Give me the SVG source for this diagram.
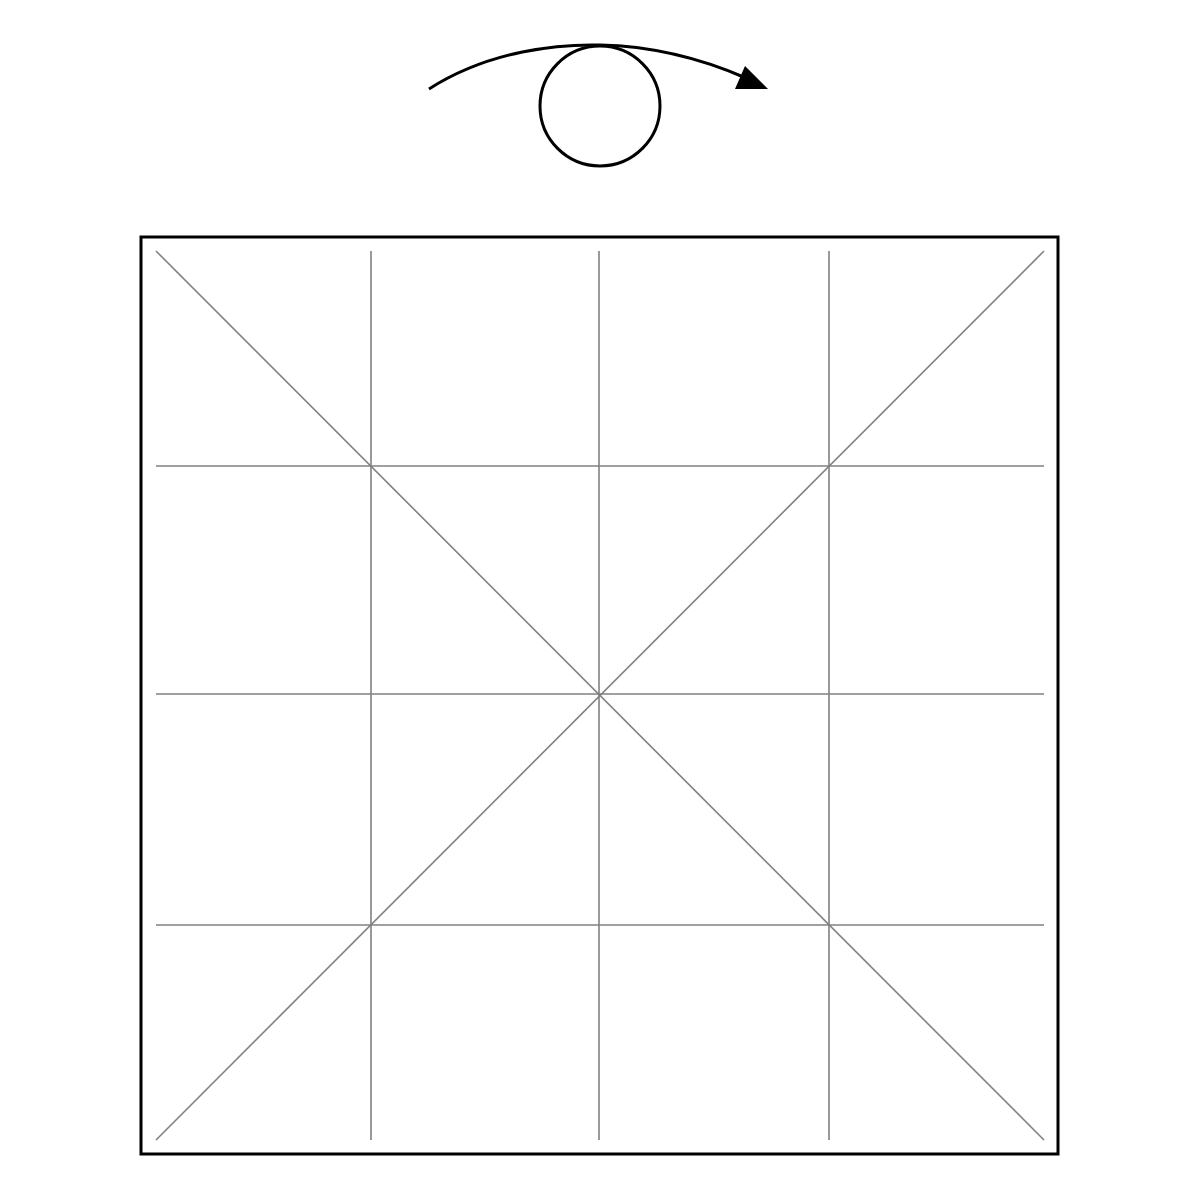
<svg xmlns="http://www.w3.org/2000/svg" width="1200" height="1200" viewBox="0 0 1200 1200">
<style>
.grid{stroke:#808080;stroke-width:1.6;fill:none}
.frame{stroke:#000;stroke-width:3;fill:none}
</style>
<rect width="1200" height="1200" fill="#fff"/>
<g id="rotation-symbol">
<circle cx="600" cy="106" r="60" fill="none" stroke="#000" stroke-width="3"/>
<path d="M429,89 C490,50 560,44 600,45 C650,46 700,58 746,78" fill="none" stroke="#000" stroke-width="3"/>
<polygon points="768,89 735,89 745,66" fill="#000"/>
</g>
<g id="square">
<rect class="frame" x="141" y="237" width="917" height="917"/>
</g>
<g id="grid">
<line class="grid" x1="371" y1="251" x2="371" y2="1140"/>
<line class="grid" x1="599" y1="251" x2="599" y2="1140"/>
<line class="grid" x1="829" y1="251" x2="829" y2="1140"/>
<line class="grid" x1="156" y1="466" x2="1044" y2="466"/>
<line class="grid" x1="156" y1="694" x2="1044" y2="694"/>
<line class="grid" x1="156" y1="925" x2="1044" y2="925"/>
<line class="grid" x1="156" y1="251" x2="1044" y2="1140"/>
<line class="grid" x1="1044" y1="251" x2="156" y2="1140"/>
</g>
</svg>
